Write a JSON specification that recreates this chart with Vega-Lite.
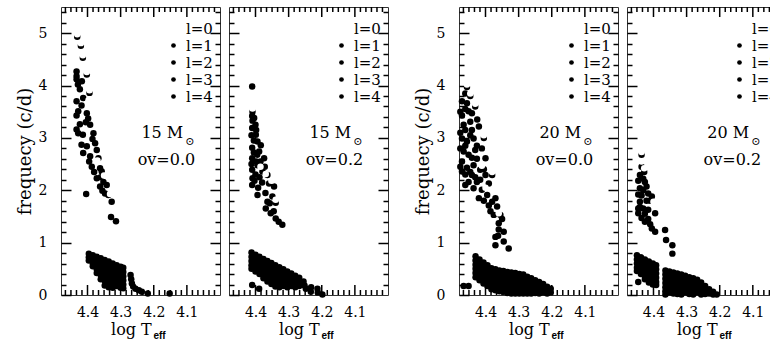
{
"$schema": "https://vega.github.io/schema/vega-lite/v6.json",
"padding": {"left": 15, "top": 5, "right": 0, "bottom": 0},
"background": "white",
"config": {
 "view": {"stroke": "#333", "strokeWidth": 1},
 "axis": {"domain": false, "grid": false, "tickColor": "black", "tickWidth": 1.5, "labelFont": "DejaVu Serif", "labelFontSize": 14, "labelColor": "black", "titleFont": "DejaVu Serif", "titleFontSize": 18, "titleFontWeight": "normal", "titleColor": "black", "labelFlush": false, "zindex": 1},
 "legend": {"labelFont": "DejaVu Serif", "labelFontSize": 15, "labelColor": "black"},
 "text": {"font": "DejaVu Serif", "fontSize": 16, "color": "black", "baseline": "alphabetic"}
},
"datasets": {
"majx": [{"v": 4.4}, {"v": 4.3}, {"v": 4.2}, {"v": 4.1}],
"minx": [{"v": 4.0167}, {"v": 4.0333}, {"v": 4.05}, {"v": 4.0667}, {"v": 4.0833}, {"v": 4.1167}, {"v": 4.1333}, {"v": 4.15}, {"v": 4.1667}, {"v": 4.1833}, {"v": 4.2167}, {"v": 4.2333}, {"v": 4.25}, {"v": 4.2667}, {"v": 4.2833}, {"v": 4.3167}, {"v": 4.3333}, {"v": 4.35}, {"v": 4.3667}, {"v": 4.3833}, {"v": 4.4167}, {"v": 4.4333}, {"v": 4.45}, {"v": 4.4667}],
"pts": [
{"p":1,"l":1,"t":4.431,"f":4.93},{"p":1,"l":2,"t":4.420,"f":4.76},{"p":1,"l":3,"t":4.414,"f":4.53},{"p":1,"l":4,"t":4.402,"f":4.21},{"p":1,"l":1,"t":4.394,"f":3.86},
{"p":1,"l":2,"t":4.433,"f":4.27},{"p":1,"l":3,"t":4.433,"f":4.18},{"p":1,"l":4,"t":4.433,"f":4.12},{"p":1,"l":1,"t":4.429,"f":4.02},{"p":1,"l":2,"t":4.417,"f":4.08},
{"p":1,"l":3,"t":4.423,"f":3.93},{"p":1,"l":4,"t":4.413,"f":3.76},{"p":1,"l":1,"t":4.433,"f":3.70},{"p":1,"l":2,"t":4.428,"f":3.51},{"p":1,"l":3,"t":4.433,"f":3.43},
{"p":1,"l":4,"t":4.402,"f":3.47},{"p":1,"l":1,"t":4.398,"f":3.37},{"p":1,"l":2,"t":4.423,"f":3.26},{"p":1,"l":3,"t":4.433,"f":3.16},{"p":1,"l":4,"t":4.428,"f":3.09},
{"p":1,"l":1,"t":4.392,"f":3.25},{"p":1,"l":2,"t":4.382,"f":3.09},{"p":1,"l":3,"t":4.414,"f":3.06},{"p":1,"l":4,"t":4.418,"f":2.87},{"p":1,"l":1,"t":4.402,"f":2.84},
{"p":1,"l":2,"t":4.377,"f":2.90},{"p":1,"l":3,"t":4.372,"f":2.77},{"p":1,"l":4,"t":4.413,"f":2.71},{"p":1,"l":1,"t":4.392,"f":2.65},{"p":1,"l":2,"t":4.367,"f":2.61},
{"p":1,"l":3,"t":4.387,"f":2.45},{"p":1,"l":4,"t":4.362,"f":2.42},{"p":1,"l":1,"t":4.357,"f":2.36},{"p":1,"l":2,"t":4.372,"f":2.23},{"p":1,"l":3,"t":4.352,"f":2.16},
{"p":1,"l":4,"t":4.362,"f":2.07},{"p":1,"l":1,"t":4.342,"f":2.10},{"p":1,"l":2,"t":4.347,"f":1.94},{"p":1,"l":3,"t":4.337,"f":1.91},{"p":1,"l":4,"t":4.327,"f":1.78},
{"p":1,"l":1,"t":4.404,"f":1.93},{"p":1,"l":2,"t":4.329,"f":1.49},{"p":1,"l":3,"t":4.314,"f":1.41},{"p":1,"l":4,"t":4.418,"f":3.62},{"p":1,"l":1,"t":4.405,"f":3.30},
{"p":1,"l":2,"t":4.385,"f":2.98},{"p":1,"l":3,"t":4.395,"f":2.55},{"p":1,"l":4,"t":4.380,"f":2.35},{"p":1,"l":1,"t":4.360,"f":2.25},{"p":1,"l":2,"t":4.355,"f":1.99},
{"p":1,"l":1,"t":4.396,"f":0.79},{"p":1,"l":2,"t":4.396,"f":0.72},{"p":1,"l":1,"t":4.396,"f":0.66},
{"p":1,"l":1,"t":4.384,"f":0.76},{"p":1,"l":2,"t":4.384,"f":0.68},{"p":1,"l":1,"t":4.384,"f":0.60},{"p":1,"l":2,"t":4.384,"f":0.55},
{"p":1,"l":1,"t":4.372,"f":0.73},{"p":1,"l":2,"t":4.372,"f":0.65},{"p":1,"l":1,"t":4.372,"f":0.57},{"p":1,"l":2,"t":4.372,"f":0.49},{"p":1,"l":1,"t":4.372,"f":0.42},
{"p":1,"l":1,"t":4.360,"f":0.70},{"p":1,"l":2,"t":4.360,"f":0.62},{"p":1,"l":1,"t":4.360,"f":0.54},{"p":1,"l":2,"t":4.360,"f":0.46},{"p":1,"l":1,"t":4.360,"f":0.38},{"p":1,"l":2,"t":4.360,"f":0.30},
{"p":1,"l":1,"t":4.348,"f":0.67},{"p":1,"l":2,"t":4.348,"f":0.59},{"p":1,"l":1,"t":4.348,"f":0.51},{"p":1,"l":2,"t":4.348,"f":0.43},{"p":1,"l":1,"t":4.348,"f":0.35},{"p":1,"l":2,"t":4.348,"f":0.27},{"p":1,"l":1,"t":4.348,"f":0.18},
{"p":1,"l":1,"t":4.336,"f":0.64},{"p":1,"l":2,"t":4.336,"f":0.56},{"p":1,"l":1,"t":4.336,"f":0.48},{"p":1,"l":2,"t":4.336,"f":0.40},{"p":1,"l":1,"t":4.336,"f":0.32},{"p":1,"l":2,"t":4.336,"f":0.24},{"p":1,"l":1,"t":4.336,"f":0.15},
{"p":1,"l":1,"t":4.324,"f":0.60},{"p":1,"l":2,"t":4.324,"f":0.52},{"p":1,"l":1,"t":4.324,"f":0.44},{"p":1,"l":2,"t":4.324,"f":0.36},{"p":1,"l":1,"t":4.324,"f":0.28},{"p":1,"l":2,"t":4.324,"f":0.20},{"p":1,"l":1,"t":4.324,"f":0.14},
{"p":1,"l":1,"t":4.312,"f":0.57},{"p":1,"l":2,"t":4.312,"f":0.49},{"p":1,"l":1,"t":4.312,"f":0.41},{"p":1,"l":2,"t":4.312,"f":0.33},{"p":1,"l":1,"t":4.312,"f":0.25},{"p":1,"l":2,"t":4.312,"f":0.17},
{"p":1,"l":1,"t":4.300,"f":0.54},{"p":1,"l":2,"t":4.300,"f":0.46},{"p":1,"l":1,"t":4.300,"f":0.38},{"p":1,"l":2,"t":4.300,"f":0.30},{"p":1,"l":1,"t":4.300,"f":0.22},{"p":1,"l":2,"t":4.300,"f":0.14},
{"p":1,"l":1,"t":4.292,"f":0.52},{"p":1,"l":2,"t":4.292,"f":0.44},{"p":1,"l":1,"t":4.292,"f":0.36},{"p":1,"l":2,"t":4.292,"f":0.28},{"p":1,"l":1,"t":4.292,"f":0.20},{"p":1,"l":2,"t":4.292,"f":0.13},
{"p":1,"l":1,"t":4.270,"f":0.38},{"p":1,"l":2,"t":4.268,"f":0.30},{"p":1,"l":1,"t":4.266,"f":0.22},{"p":1,"l":2,"t":4.262,"f":0.16},{"p":1,"l":1,"t":4.255,"f":0.12},{"p":1,"l":2,"t":4.245,"f":0.09},{"p":1,"l":1,"t":4.236,"f":0.06},{"p":1,"l":2,"t":4.218,"f":0.03},{"p":1,"l":1,"t":4.152,"f":0.03},

{"p":2,"l":1,"t":4.410,"f":3.98},{"p":2,"l":2,"t":4.409,"f":3.50},{"p":2,"l":3,"t":4.410,"f":3.42},{"p":2,"l":4,"t":4.409,"f":3.33},{"p":2,"l":1,"t":4.410,"f":3.19},
{"p":2,"l":2,"t":4.399,"f":3.06},{"p":2,"l":3,"t":4.394,"f":2.93},{"p":2,"l":4,"t":4.410,"f":2.81},{"p":2,"l":1,"t":4.389,"f":2.74},{"p":2,"l":2,"t":4.410,"f":2.61},
{"p":2,"l":3,"t":4.374,"f":2.61},{"p":2,"l":4,"t":4.384,"f":2.86},{"p":2,"l":1,"t":4.394,"f":2.48},{"p":2,"l":2,"t":4.410,"f":2.39},{"p":2,"l":3,"t":4.379,"f":2.36},
{"p":2,"l":4,"t":4.409,"f":2.23},{"p":2,"l":1,"t":4.410,"f":2.10},{"p":2,"l":2,"t":4.364,"f":2.29},{"p":2,"l":3,"t":4.359,"f":2.13},{"p":2,"l":4,"t":4.344,"f":2.07},
{"p":2,"l":1,"t":4.394,"f":1.91},{"p":2,"l":2,"t":4.349,"f":1.88},{"p":2,"l":3,"t":4.364,"f":1.78},{"p":2,"l":4,"t":4.369,"f":1.65},{"p":2,"l":1,"t":4.354,"f":1.56},
{"p":2,"l":2,"t":4.339,"f":1.46},{"p":2,"l":3,"t":4.319,"f":1.34},{"p":2,"l":4,"t":4.400,"f":3.25},{"p":2,"l":1,"t":4.405,"f":2.95},{"p":2,"l":2,"t":4.395,"f":2.68},
{"p":2,"l":3,"t":4.385,"f":2.55},{"p":2,"l":4,"t":4.400,"f":2.30},{"p":2,"l":1,"t":4.339,"f":1.76},
{"p":2,"l":2,"t":4.404,"f":3.38},{"p":2,"l":3,"t":4.398,"f":3.15},{"p":2,"l":4,"t":4.412,"f":3.05},{"p":2,"l":1,"t":4.405,"f":2.72},{"p":2,"l":2,"t":4.398,"f":2.55},
{"p":2,"l":3,"t":4.412,"f":2.50},{"p":2,"l":4,"t":4.403,"f":2.18},{"p":2,"l":1,"t":4.392,"f":2.05},{"p":2,"l":2,"t":4.380,"f":2.15},{"p":2,"l":3,"t":4.372,"f":2.45},
{"p":2,"l":4,"t":4.388,"f":2.25},{"p":2,"l":1,"t":4.370,"f":1.95},{"p":2,"l":2,"t":4.357,"f":1.75},{"p":2,"l":3,"t":4.345,"f":1.60},{"p":2,"l":4,"t":4.330,"f":1.40},
{"p":2,"l":1,"t":4.412,"f":0.81},{"p":2,"l":2,"t":4.412,"f":0.73},{"p":2,"l":1,"t":4.412,"f":0.65},{"p":2,"l":2,"t":4.412,"f":0.57},{"p":2,"l":1,"t":4.412,"f":0.50},
{"p":2,"l":1,"t":4.400,"f":0.77},{"p":2,"l":2,"t":4.400,"f":0.69},{"p":2,"l":1,"t":4.400,"f":0.61},{"p":2,"l":2,"t":4.400,"f":0.53},{"p":2,"l":1,"t":4.400,"f":0.45},
{"p":2,"l":1,"t":4.388,"f":0.73},{"p":2,"l":2,"t":4.388,"f":0.65},{"p":2,"l":1,"t":4.388,"f":0.57},{"p":2,"l":2,"t":4.388,"f":0.49},{"p":2,"l":1,"t":4.388,"f":0.40},
{"p":2,"l":1,"t":4.376,"f":0.69},{"p":2,"l":2,"t":4.376,"f":0.61},{"p":2,"l":1,"t":4.376,"f":0.53},{"p":2,"l":2,"t":4.376,"f":0.45},{"p":2,"l":1,"t":4.376,"f":0.37},{"p":2,"l":2,"t":4.376,"f":0.32},
{"p":2,"l":1,"t":4.364,"f":0.65},{"p":2,"l":2,"t":4.364,"f":0.57},{"p":2,"l":1,"t":4.364,"f":0.49},{"p":2,"l":2,"t":4.364,"f":0.41},{"p":2,"l":1,"t":4.364,"f":0.33},{"p":2,"l":2,"t":4.364,"f":0.26},
{"p":2,"l":1,"t":4.352,"f":0.61},{"p":2,"l":2,"t":4.352,"f":0.53},{"p":2,"l":1,"t":4.352,"f":0.45},{"p":2,"l":2,"t":4.352,"f":0.37},{"p":2,"l":1,"t":4.352,"f":0.29},{"p":2,"l":2,"t":4.352,"f":0.21},
{"p":2,"l":1,"t":4.340,"f":0.57},{"p":2,"l":2,"t":4.340,"f":0.49},{"p":2,"l":1,"t":4.340,"f":0.41},{"p":2,"l":2,"t":4.340,"f":0.33},{"p":2,"l":1,"t":4.340,"f":0.25},{"p":2,"l":2,"t":4.340,"f":0.16},
{"p":2,"l":1,"t":4.328,"f":0.53},{"p":2,"l":2,"t":4.328,"f":0.45},{"p":2,"l":1,"t":4.328,"f":0.37},{"p":2,"l":2,"t":4.328,"f":0.29},{"p":2,"l":1,"t":4.328,"f":0.21},{"p":2,"l":2,"t":4.328,"f":0.15},
{"p":2,"l":1,"t":4.316,"f":0.49},{"p":2,"l":2,"t":4.316,"f":0.41},{"p":2,"l":1,"t":4.316,"f":0.33},{"p":2,"l":2,"t":4.316,"f":0.25},{"p":2,"l":1,"t":4.316,"f":0.17},
{"p":2,"l":1,"t":4.304,"f":0.45},{"p":2,"l":2,"t":4.304,"f":0.37},{"p":2,"l":1,"t":4.304,"f":0.29},{"p":2,"l":2,"t":4.304,"f":0.21},{"p":2,"l":1,"t":4.304,"f":0.15},
{"p":2,"l":1,"t":4.292,"f":0.41},{"p":2,"l":2,"t":4.292,"f":0.33},{"p":2,"l":1,"t":4.292,"f":0.25},{"p":2,"l":2,"t":4.292,"f":0.17},
{"p":2,"l":1,"t":4.280,"f":0.37},{"p":2,"l":2,"t":4.280,"f":0.29},{"p":2,"l":1,"t":4.280,"f":0.21},{"p":2,"l":2,"t":4.280,"f":0.15},
{"p":2,"l":1,"t":4.268,"f":0.33},{"p":2,"l":2,"t":4.268,"f":0.25},{"p":2,"l":1,"t":4.268,"f":0.17},
{"p":2,"l":1,"t":4.255,"f":0.26},{"p":2,"l":2,"t":4.252,"f":0.18},{"p":2,"l":1,"t":4.248,"f":0.12},{"p":2,"l":2,"t":4.233,"f":0.06},{"p":2,"l":1,"t":4.232,"f":0.15},{"p":2,"l":2,"t":4.213,"f":0.12},{"p":2,"l":1,"t":4.212,"f":0.05},{"p":2,"l":2,"t":4.198,"f":0.01},{"p":2,"l":1,"t":4.410,"f":0.19},{"p":2,"l":2,"t":4.389,"f":0.12},

{"p":3,"l":1,"t":4.456,"f":3.97},{"p":3,"l":2,"t":4.471,"f":3.70},{"p":3,"l":3,"t":4.456,"f":3.66},{"p":3,"l":4,"t":4.451,"f":3.51},{"p":3,"l":1,"t":4.471,"f":3.43},
{"p":3,"l":2,"t":4.441,"f":3.47},{"p":3,"l":3,"t":4.466,"f":3.25},{"p":3,"l":4,"t":4.446,"f":3.31},{"p":3,"l":1,"t":4.441,"f":3.15},{"p":3,"l":2,"t":4.420,"f":3.22},
{"p":3,"l":3,"t":4.471,"f":2.99},{"p":3,"l":4,"t":4.456,"f":2.93},{"p":3,"l":1,"t":4.436,"f":2.99},{"p":3,"l":2,"t":4.466,"f":2.74},{"p":3,"l":3,"t":4.451,"f":2.68},
{"p":3,"l":4,"t":4.431,"f":2.77},{"p":3,"l":1,"t":4.411,"f":2.80},{"p":3,"l":2,"t":4.400,"f":2.61},{"p":3,"l":3,"t":4.471,"f":2.55},{"p":3,"l":4,"t":4.456,"f":2.43},
{"p":3,"l":1,"t":4.436,"f":2.48},{"p":3,"l":2,"t":4.416,"f":2.39},{"p":3,"l":3,"t":4.471,"f":2.36},{"p":3,"l":4,"t":4.441,"f":2.29},{"p":3,"l":1,"t":4.451,"f":2.16},
{"p":3,"l":2,"t":4.426,"f":2.16},{"p":3,"l":3,"t":4.400,"f":2.29},{"p":3,"l":4,"t":4.390,"f":2.13},{"p":3,"l":1,"t":4.380,"f":2.29},{"p":3,"l":2,"t":4.436,"f":2.04},
{"p":3,"l":3,"t":4.411,"f":2.01},{"p":3,"l":4,"t":4.420,"f":1.85},{"p":3,"l":1,"t":4.395,"f":1.91},{"p":3,"l":2,"t":4.380,"f":1.78},{"p":3,"l":3,"t":4.370,"f":1.85},
{"p":3,"l":4,"t":4.390,"f":1.71},{"p":3,"l":1,"t":4.365,"f":1.69},{"p":3,"l":2,"t":4.375,"f":1.53},{"p":3,"l":3,"t":4.355,"f":1.53},{"p":3,"l":4,"t":4.360,"f":1.37},
{"p":3,"l":1,"t":4.345,"f":1.21},{"p":3,"l":2,"t":4.370,"f":1.11},{"p":3,"l":3,"t":4.362,"f":1.13},{"p":3,"l":4,"t":4.370,"f":0.95},{"p":3,"l":1,"t":4.345,"f":1.02},
{"p":3,"l":2,"t":4.330,"f":0.89},{"p":3,"l":3,"t":4.476,"f":3.50},{"p":3,"l":4,"t":4.476,"f":3.10},{"p":3,"l":1,"t":4.476,"f":2.80},{"p":3,"l":2,"t":4.476,"f":2.45},
{"p":3,"l":3,"t":4.461,"f":3.85},{"p":3,"l":4,"t":4.446,"f":3.80},{"p":3,"l":1,"t":4.431,"f":3.60},{"p":3,"l":2,"t":4.425,"f":3.35},{"p":3,"l":3,"t":4.405,"f":3.00},
{"p":3,"l":1,"t":4.461,"f":3.55},{"p":3,"l":2,"t":4.461,"f":3.15},{"p":3,"l":3,"t":4.446,"f":3.05},{"p":3,"l":4,"t":4.461,"f":2.85},{"p":3,"l":1,"t":4.441,"f":2.62},
{"p":3,"l":2,"t":4.426,"f":2.60},{"p":3,"l":3,"t":4.426,"f":2.85},{"p":3,"l":4,"t":4.461,"f":2.30},{"p":3,"l":1,"t":4.446,"f":2.35},{"p":3,"l":2,"t":4.431,"f":2.25},
{"p":3,"l":3,"t":4.461,"f":2.10},{"p":3,"l":4,"t":4.416,"f":2.20},{"p":3,"l":1,"t":4.405,"f":2.40},{"p":3,"l":2,"t":4.405,"f":1.80},{"p":3,"l":3,"t":4.385,"f":1.60},
{"p":3,"l":4,"t":4.360,"f":1.25},{"p":3,"l":1,"t":4.350,"f":1.45},
{"p":3,"l":1,"t":4.430,"f":0.74},{"p":3,"l":2,"t":4.430,"f":0.66},{"p":3,"l":1,"t":4.430,"f":0.58},{"p":3,"l":2,"t":4.430,"f":0.50},{"p":3,"l":1,"t":4.430,"f":0.42},{"p":3,"l":2,"t":4.430,"f":0.34},
{"p":3,"l":1,"t":4.418,"f":0.68},{"p":3,"l":2,"t":4.418,"f":0.60},{"p":3,"l":1,"t":4.418,"f":0.52},{"p":3,"l":2,"t":4.418,"f":0.44},{"p":3,"l":1,"t":4.418,"f":0.36},{"p":3,"l":2,"t":4.418,"f":0.28},
{"p":3,"l":1,"t":4.406,"f":0.62},{"p":3,"l":2,"t":4.406,"f":0.54},{"p":3,"l":1,"t":4.406,"f":0.46},{"p":3,"l":2,"t":4.406,"f":0.38},{"p":3,"l":1,"t":4.406,"f":0.30},{"p":3,"l":2,"t":4.406,"f":0.22},
{"p":3,"l":1,"t":4.394,"f":0.57},{"p":3,"l":2,"t":4.394,"f":0.49},{"p":3,"l":1,"t":4.394,"f":0.41},{"p":3,"l":2,"t":4.394,"f":0.33},{"p":3,"l":1,"t":4.394,"f":0.25},{"p":3,"l":2,"t":4.394,"f":0.17},
{"p":3,"l":1,"t":4.382,"f":0.51},{"p":3,"l":2,"t":4.382,"f":0.43},{"p":3,"l":1,"t":4.382,"f":0.35},{"p":3,"l":2,"t":4.382,"f":0.27},{"p":3,"l":1,"t":4.382,"f":0.19},{"p":3,"l":2,"t":4.382,"f":0.11},
{"p":3,"l":1,"t":4.370,"f":0.49},{"p":3,"l":2,"t":4.370,"f":0.41},{"p":3,"l":1,"t":4.370,"f":0.33},{"p":3,"l":2,"t":4.370,"f":0.25},{"p":3,"l":1,"t":4.370,"f":0.17},{"p":3,"l":2,"t":4.370,"f":0.09},
{"p":3,"l":1,"t":4.358,"f":0.47},{"p":3,"l":2,"t":4.358,"f":0.39},{"p":3,"l":1,"t":4.358,"f":0.31},{"p":3,"l":2,"t":4.358,"f":0.23},{"p":3,"l":1,"t":4.358,"f":0.15},{"p":3,"l":2,"t":4.358,"f":0.07},
{"p":3,"l":1,"t":4.346,"f":0.46},{"p":3,"l":2,"t":4.346,"f":0.38},{"p":3,"l":1,"t":4.346,"f":0.30},{"p":3,"l":2,"t":4.346,"f":0.22},{"p":3,"l":1,"t":4.346,"f":0.14},{"p":3,"l":2,"t":4.346,"f":0.06},
{"p":3,"l":1,"t":4.334,"f":0.44},{"p":3,"l":2,"t":4.334,"f":0.36},{"p":3,"l":1,"t":4.334,"f":0.28},{"p":3,"l":2,"t":4.334,"f":0.20},{"p":3,"l":1,"t":4.334,"f":0.12},{"p":3,"l":2,"t":4.334,"f":0.04},
{"p":3,"l":1,"t":4.322,"f":0.43},{"p":3,"l":2,"t":4.322,"f":0.35},{"p":3,"l":1,"t":4.322,"f":0.27},{"p":3,"l":2,"t":4.322,"f":0.19},{"p":3,"l":1,"t":4.322,"f":0.11},{"p":3,"l":2,"t":4.322,"f":0.03},
{"p":3,"l":1,"t":4.310,"f":0.42},{"p":3,"l":2,"t":4.310,"f":0.34},{"p":3,"l":1,"t":4.310,"f":0.26},{"p":3,"l":2,"t":4.310,"f":0.18},{"p":3,"l":1,"t":4.310,"f":0.10},{"p":3,"l":2,"t":4.310,"f":0.03},
{"p":3,"l":1,"t":4.298,"f":0.40},{"p":3,"l":2,"t":4.298,"f":0.32},{"p":3,"l":1,"t":4.298,"f":0.24},{"p":3,"l":2,"t":4.298,"f":0.16},{"p":3,"l":1,"t":4.298,"f":0.08},{"p":3,"l":2,"t":4.298,"f":0.03},
{"p":3,"l":1,"t":4.286,"f":0.39},{"p":3,"l":2,"t":4.286,"f":0.31},{"p":3,"l":1,"t":4.286,"f":0.23},{"p":3,"l":2,"t":4.286,"f":0.15},{"p":3,"l":1,"t":4.286,"f":0.07},{"p":3,"l":2,"t":4.286,"f":0.03},
{"p":3,"l":1,"t":4.274,"f":0.35},{"p":3,"l":2,"t":4.274,"f":0.27},{"p":3,"l":1,"t":4.274,"f":0.19},{"p":3,"l":2,"t":4.274,"f":0.11},{"p":3,"l":1,"t":4.274,"f":0.03},
{"p":3,"l":1,"t":4.262,"f":0.32},{"p":3,"l":2,"t":4.262,"f":0.24},{"p":3,"l":1,"t":4.262,"f":0.16},{"p":3,"l":2,"t":4.262,"f":0.08},{"p":3,"l":1,"t":4.262,"f":0.03},
{"p":3,"l":1,"t":4.250,"f":0.28},{"p":3,"l":2,"t":4.250,"f":0.20},{"p":3,"l":1,"t":4.250,"f":0.12},{"p":3,"l":2,"t":4.250,"f":0.04},
{"p":3,"l":1,"t":4.238,"f":0.25},{"p":3,"l":2,"t":4.238,"f":0.17},{"p":3,"l":1,"t":4.238,"f":0.09},{"p":3,"l":2,"t":4.238,"f":0.03},
{"p":3,"l":1,"t":4.226,"f":0.21},{"p":3,"l":2,"t":4.226,"f":0.13},{"p":3,"l":1,"t":4.226,"f":0.05},
{"p":3,"l":1,"t":4.214,"f":0.16},{"p":3,"l":2,"t":4.214,"f":0.08},{"p":3,"l":1,"t":4.214,"f":0.03},
{"p":3,"l":1,"t":4.203,"f":0.12},{"p":3,"l":2,"t":4.203,"f":0.05},
{"p":3,"l":1,"t":4.466,"f":0.17},{"p":3,"l":2,"t":4.451,"f":0.17},

{"p":4,"l":1,"t":4.436,"f":2.68},{"p":4,"l":2,"t":4.441,"f":2.29},{"p":4,"l":3,"t":4.426,"f":2.16},{"p":4,"l":4,"t":4.441,"f":2.04},{"p":4,"l":1,"t":4.421,"f":2.07},
{"p":4,"l":2,"t":4.416,"f":1.94},{"p":4,"l":3,"t":4.405,"f":1.88},{"p":4,"l":4,"t":4.441,"f":1.78},{"p":4,"l":1,"t":4.431,"f":1.65},{"p":4,"l":2,"t":4.416,"f":1.63},
{"p":4,"l":3,"t":4.446,"f":1.56},{"p":4,"l":4,"t":4.395,"f":1.56},{"p":4,"l":1,"t":4.426,"f":1.40},{"p":4,"l":2,"t":4.405,"f":1.27},{"p":4,"l":3,"t":4.395,"f":1.21},
{"p":4,"l":4,"t":4.365,"f":1.24},{"p":4,"l":1,"t":4.362,"f":1.05},{"p":4,"l":2,"t":4.343,"f":0.95},{"p":4,"l":3,"t":4.343,"f":0.79},{"p":4,"l":4,"t":4.436,"f":2.45},
{"p":4,"l":1,"t":4.428,"f":2.35},{"p":4,"l":2,"t":4.410,"f":1.80},{"p":4,"l":3,"t":4.436,"f":1.90},
{"p":4,"l":4,"t":4.446,"f":2.18},{"p":4,"l":1,"t":4.431,"f":2.00},{"p":4,"l":2,"t":4.446,"f":1.92},{"p":4,"l":3,"t":4.421,"f":1.80},{"p":4,"l":4,"t":4.441,"f":1.68},
{"p":4,"l":1,"t":4.426,"f":1.55},{"p":4,"l":2,"t":4.436,"f":1.47},{"p":4,"l":3,"t":4.416,"f":1.45},{"p":4,"l":4,"t":4.410,"f":1.35},{"p":4,"l":1,"t":4.446,"f":1.65},{"p":4,"l":2,"t":4.431,"f":2.22},
{"p":4,"l":1,"t":4.450,"f":0.76},{"p":4,"l":2,"t":4.450,"f":0.68},{"p":4,"l":1,"t":4.450,"f":0.60},{"p":4,"l":2,"t":4.450,"f":0.52},{"p":4,"l":1,"t":4.450,"f":0.46},
{"p":4,"l":1,"t":4.438,"f":0.72},{"p":4,"l":2,"t":4.438,"f":0.64},{"p":4,"l":1,"t":4.438,"f":0.56},{"p":4,"l":2,"t":4.438,"f":0.48},{"p":4,"l":1,"t":4.438,"f":0.40},
{"p":4,"l":1,"t":4.426,"f":0.68},{"p":4,"l":2,"t":4.426,"f":0.60},{"p":4,"l":1,"t":4.426,"f":0.52},{"p":4,"l":2,"t":4.426,"f":0.44},{"p":4,"l":1,"t":4.426,"f":0.36},{"p":4,"l":2,"t":4.426,"f":0.30},
{"p":4,"l":1,"t":4.414,"f":0.64},{"p":4,"l":2,"t":4.414,"f":0.56},{"p":4,"l":1,"t":4.414,"f":0.48},{"p":4,"l":2,"t":4.414,"f":0.40},{"p":4,"l":1,"t":4.414,"f":0.32},{"p":4,"l":2,"t":4.414,"f":0.24},
{"p":4,"l":1,"t":4.402,"f":0.60},{"p":4,"l":2,"t":4.402,"f":0.52},{"p":4,"l":1,"t":4.402,"f":0.44},{"p":4,"l":2,"t":4.402,"f":0.36},{"p":4,"l":1,"t":4.402,"f":0.28},{"p":4,"l":2,"t":4.402,"f":0.20},
{"p":4,"l":1,"t":4.392,"f":0.57},{"p":4,"l":2,"t":4.392,"f":0.49},{"p":4,"l":1,"t":4.392,"f":0.41},{"p":4,"l":2,"t":4.392,"f":0.33},{"p":4,"l":1,"t":4.392,"f":0.25},{"p":4,"l":2,"t":4.392,"f":0.19},
{"p":4,"l":1,"t":4.446,"f":0.25},
{"p":4,"l":1,"t":4.364,"f":0.47},{"p":4,"l":2,"t":4.364,"f":0.39},{"p":4,"l":1,"t":4.364,"f":0.31},{"p":4,"l":2,"t":4.364,"f":0.23},{"p":4,"l":1,"t":4.364,"f":0.15},{"p":4,"l":2,"t":4.364,"f":0.07},{"p":4,"l":1,"t":4.364,"f":0.01},
{"p":4,"l":1,"t":4.352,"f":0.45},{"p":4,"l":2,"t":4.352,"f":0.37},{"p":4,"l":1,"t":4.352,"f":0.29},{"p":4,"l":2,"t":4.352,"f":0.21},{"p":4,"l":1,"t":4.352,"f":0.13},{"p":4,"l":2,"t":4.352,"f":0.05},
{"p":4,"l":1,"t":4.340,"f":0.43},{"p":4,"l":2,"t":4.340,"f":0.35},{"p":4,"l":1,"t":4.340,"f":0.27},{"p":4,"l":2,"t":4.340,"f":0.19},{"p":4,"l":1,"t":4.340,"f":0.11},{"p":4,"l":2,"t":4.340,"f":0.03},
{"p":4,"l":1,"t":4.328,"f":0.41},{"p":4,"l":2,"t":4.328,"f":0.33},{"p":4,"l":1,"t":4.328,"f":0.25},{"p":4,"l":2,"t":4.328,"f":0.17},{"p":4,"l":1,"t":4.328,"f":0.09},{"p":4,"l":2,"t":4.328,"f":0.02},
{"p":4,"l":1,"t":4.316,"f":0.39},{"p":4,"l":2,"t":4.316,"f":0.31},{"p":4,"l":1,"t":4.316,"f":0.23},{"p":4,"l":2,"t":4.316,"f":0.15},{"p":4,"l":1,"t":4.316,"f":0.07},{"p":4,"l":2,"t":4.316,"f":0.01},
{"p":4,"l":1,"t":4.304,"f":0.37},{"p":4,"l":2,"t":4.304,"f":0.29},{"p":4,"l":1,"t":4.304,"f":0.21},{"p":4,"l":2,"t":4.304,"f":0.13},{"p":4,"l":1,"t":4.304,"f":0.05},
{"p":4,"l":1,"t":4.292,"f":0.34},{"p":4,"l":2,"t":4.292,"f":0.26},{"p":4,"l":1,"t":4.292,"f":0.18},{"p":4,"l":2,"t":4.292,"f":0.10},{"p":4,"l":1,"t":4.292,"f":0.02},
{"p":4,"l":1,"t":4.280,"f":0.32},{"p":4,"l":2,"t":4.280,"f":0.24},{"p":4,"l":1,"t":4.280,"f":0.16},{"p":4,"l":2,"t":4.280,"f":0.08},{"p":4,"l":1,"t":4.280,"f":0.01},
{"p":4,"l":1,"t":4.268,"f":0.29},{"p":4,"l":2,"t":4.268,"f":0.21},{"p":4,"l":1,"t":4.268,"f":0.13},{"p":4,"l":2,"t":4.268,"f":0.05},
{"p":4,"l":1,"t":4.256,"f":0.24},{"p":4,"l":2,"t":4.256,"f":0.16},{"p":4,"l":1,"t":4.256,"f":0.08},{"p":4,"l":2,"t":4.256,"f":0.01},
{"p":4,"l":1,"t":4.244,"f":0.17},{"p":4,"l":2,"t":4.244,"f":0.09},{"p":4,"l":1,"t":4.244,"f":0.02},
{"p":4,"l":1,"t":4.232,"f":0.11},{"p":4,"l":2,"t":4.232,"f":0.03},
{"p":4,"l":1,"t":4.220,"f":0.06},{"p":4,"l":2,"t":4.220,"f":0.01},
{"p":4,"l":1,"t":4.209,"f":0.01},

{"p":1,"l":0,"t":4.431,"f":4.98},{"p":1,"l":0,"t":4.420,"f":4.81},{"p":1,"l":0,"t":4.414,"f":4.58},{"p":1,"l":0,"t":4.402,"f":4.26},{"p":1,"l":0,"t":4.394,"f":3.91},
{"p":1,"l":0,"t":4.397,"f":3.72},{"p":1,"l":0,"t":4.370,"f":2.57},{"p":1,"l":0,"t":4.350,"f":2.28},{"p":1,"l":0,"t":4.332,"f":1.93},
{"p":2,"l":0,"t":4.409,"f":3.56},{"p":2,"l":0,"t":4.369,"f":2.31},{"p":2,"l":0,"t":4.352,"f":2.18},{"p":2,"l":0,"t":4.339,"f":1.82},{"p":2,"l":0,"t":4.385,"f":2.45},
{"p":3,"l":0,"t":4.456,"f":4.02},{"p":3,"l":0,"t":4.446,"f":3.85},{"p":3,"l":0,"t":4.431,"f":3.65},{"p":3,"l":0,"t":4.405,"f":3.05},{"p":3,"l":0,"t":4.411,"f":2.47},
{"p":3,"l":0,"t":4.400,"f":2.05},{"p":3,"l":0,"t":4.360,"f":1.56},{"p":3,"l":0,"t":4.380,"f":2.35},
{"p":4,"l":0,"t":4.436,"f":2.73},{"p":4,"l":0,"t":4.436,"f":2.55},{"p":4,"l":0,"t":4.428,"f":2.42},{"p":4,"l":0,"t":4.400,"f":1.78}
]},
"resolve": {"legend": {"fill": "independent"}},
"spacing": 23,
"hconcat": [
{"spacing": 5, "resolve": {"legend": {"fill": "independent"}}, "hconcat": [
 {"width": 159, "height": 288, "resolve": {"axis": {"x": "independent", "y": "independent"}}, "layer": [
  {"data": {"name": "majx"}, "mark": {"type": "rule", "color": "black", "strokeWidth": 1.5}, "encoding": {"x": {"field": "v", "type": "quantitative", "scale": {"domain": [4.0, 4.48], "reverse": true, "nice": false, "zero": false}, "axis": null}, "y": {"datum": 0, "type": "quantitative", "scale": {"domain": [0, 5.5], "nice": false, "zero": false}, "axis": null}, "y2": {"datum": 0.191}}},
  {"data": {"name": "majx"}, "mark": {"type": "rule", "color": "black", "strokeWidth": 1.5}, "encoding": {"x": {"field": "v", "type": "quantitative", "scale": {"domain": [4.0, 4.48], "reverse": true, "nice": false, "zero": false}, "axis": null}, "y": {"datum": 5.5, "type": "quantitative", "scale": {"domain": [0, 5.5], "nice": false, "zero": false}, "axis": null}, "y2": {"datum": 5.309}}},
  {"data": {"name": "minx"}, "mark": {"type": "rule", "color": "black", "strokeWidth": 1.5}, "encoding": {"x": {"field": "v", "type": "quantitative", "scale": {"domain": [4.0, 4.48], "reverse": true, "nice": false, "zero": false}, "axis": null}, "y": {"datum": 0, "type": "quantitative", "scale": {"domain": [0, 5.5], "nice": false, "zero": false}, "axis": null}, "y2": {"datum": 0.095}}},
  {"data": {"name": "minx"}, "mark": {"type": "rule", "color": "black", "strokeWidth": 1.5}, "encoding": {"x": {"field": "v", "type": "quantitative", "scale": {"domain": [4.0, 4.48], "reverse": true, "nice": false, "zero": false}, "axis": null}, "y": {"datum": 5.5, "type": "quantitative", "scale": {"domain": [0, 5.5], "nice": false, "zero": false}, "axis": null}, "y2": {"datum": 5.405}}},
  {"data": {"name": "pts"}, "transform": [{"filter": "datum.p == 1"}],
   "mark": {"type": "circle", "size": 42, "opacity": 1},
   "encoding": {
    "x": {"field": "t", "type": "quantitative", "scale": {"domain": [4.0, 4.48], "reverse": true, "nice": false, "zero": false}, "axis": {"orient": "bottom", "values": [4.4, 4.3, 4.2, 4.1], "ticks": false, "labelPadding": 10, "title": null}},
    "y": {"field": "f", "type": "quantitative", "scale": {"domain": [0, 5.5], "nice": false, "zero": false}, "axis": {"orient": "left", "values": [0, 1, 2, 3, 4, 5], "offset": -10, "tickSize": 10, "labelPadding": 14, "title": "frequecy (c/d)", "titlePadding": 4}},
    "fill": {"field": "l", "type": "nominal", "scale": {"domain": [0, 1, 2, 3, 4], "range": ["white", "black", "black", "black", "black"]}, "legend": {"orient": "none", "legendX": 105, "legendY": 14, "title": null, "labelFont": "DejaVu Serif", "labelFontSize": 15, "labelColor": "black", "symbolType": "circle", "symbolSize": 22, "symbolStrokeWidth": 0, "symbolOpacity": 1, "rowPadding": 1, "padding": 0, "labelOffset": 5, "labelExpr": "'l=' + datum.label"}}
   }},
  {"data": {"values": [{}]}, "mark": {"type": "text", "text": "15  M", "align": "right"},
   "encoding": {
    "x": {"datum": 4.111, "type": "quantitative", "scale": {"domain": [4.0, 4.48], "reverse": true, "nice": false, "zero": false}, "axis": null},
    "y": {"datum": 2.99, "type": "quantitative", "scale": {"domain": [0, 5.5], "nice": false, "zero": false}, "axis": {"orient": "left", "values": [0.2, 0.4, 0.6, 0.8, 1.2, 1.4, 1.6, 1.8, 2.2, 2.4, 2.6, 2.8, 3.2, 3.4, 3.6, 3.8, 4.2, 4.4, 4.6, 4.8, 5.2, 5.4], "offset": -5, "tickSize": 5, "labels": false, "title": null}}
   }},
  {"data": {"values": [{}]}, "mark": {"type": "text", "text": "ov=0.0", "align": "right"},
   "encoding": {
    "x": {"datum": 4.075, "type": "quantitative", "scale": {"domain": [4.0, 4.48], "reverse": true, "nice": false, "zero": false}, "axis": null},
    "y": {"datum": 2.48, "type": "quantitative", "scale": {"domain": [0, 5.5], "nice": false, "zero": false}, "axis": {"orient": "right", "values": [1, 2, 3, 4, 5], "offset": -10, "tickSize": 10, "labels": false, "title": null}}
   }},
  {"data": {"values": [{}]}, "mark": {"type": "text", "text": "⊙", "align": "left", "baseline": "middle", "fontSize": 11},
   "encoding": {
    "x": {"datum": 4.105, "type": "quantitative", "scale": {"domain": [4.0, 4.48], "reverse": true, "nice": false, "zero": false}, "axis": null},
    "y": {"datum": 2.93, "type": "quantitative", "scale": {"domain": [0, 5.5], "nice": false, "zero": false}, "axis": {"orient": "right", "values": [0.2, 0.4, 0.6, 0.8, 1.2, 1.4, 1.6, 1.8, 2.2, 2.4, 2.6, 2.8, 3.2, 3.4, 3.6, 3.8, 4.2, 4.4, 4.6, 4.8, 5.2, 5.4], "offset": -5, "tickSize": 5, "labels": false, "title": null}}
   }},
  {"data": {"values": [{}]}, "mark": {"type": "text", "text": "log T", "align": "right"},
   "encoding": {"x": {"datum": 4.206, "type": "quantitative", "scale": {"domain": [4.0, 4.48], "reverse": true, "nice": false, "zero": false}, "axis": null}, "y": {"datum": -0.76, "type": "quantitative", "scale": {"domain": [0, 5.5], "nice": false, "zero": false}, "axis": null}}},
  {"data": {"values": [{}]}, "mark": {"type": "text", "text": "eff", "align": "left", "font": "Liberation Sans", "fontWeight": "bold", "fontSize": 10},
   "encoding": {"x": {"datum": 4.201, "type": "quantitative", "scale": {"domain": [4.0, 4.48], "reverse": true, "nice": false, "zero": false}, "axis": null}, "y": {"datum": -0.84, "type": "quantitative", "scale": {"domain": [0, 5.5], "nice": false, "zero": false}, "axis": null}}}
 ]},
 {"width": 159, "height": 288, "resolve": {"axis": {"x": "independent", "y": "independent"}}, "layer": [
  {"data": {"name": "majx"}, "mark": {"type": "rule", "color": "black", "strokeWidth": 1.5}, "encoding": {"x": {"field": "v", "type": "quantitative", "scale": {"domain": [4.0, 4.48], "reverse": true, "nice": false, "zero": false}, "axis": null}, "y": {"datum": 0, "type": "quantitative", "scale": {"domain": [0, 5.5], "nice": false, "zero": false}, "axis": null}, "y2": {"datum": 0.191}}},
  {"data": {"name": "majx"}, "mark": {"type": "rule", "color": "black", "strokeWidth": 1.5}, "encoding": {"x": {"field": "v", "type": "quantitative", "scale": {"domain": [4.0, 4.48], "reverse": true, "nice": false, "zero": false}, "axis": null}, "y": {"datum": 5.5, "type": "quantitative", "scale": {"domain": [0, 5.5], "nice": false, "zero": false}, "axis": null}, "y2": {"datum": 5.309}}},
  {"data": {"name": "minx"}, "mark": {"type": "rule", "color": "black", "strokeWidth": 1.5}, "encoding": {"x": {"field": "v", "type": "quantitative", "scale": {"domain": [4.0, 4.48], "reverse": true, "nice": false, "zero": false}, "axis": null}, "y": {"datum": 0, "type": "quantitative", "scale": {"domain": [0, 5.5], "nice": false, "zero": false}, "axis": null}, "y2": {"datum": 0.095}}},
  {"data": {"name": "minx"}, "mark": {"type": "rule", "color": "black", "strokeWidth": 1.5}, "encoding": {"x": {"field": "v", "type": "quantitative", "scale": {"domain": [4.0, 4.48], "reverse": true, "nice": false, "zero": false}, "axis": null}, "y": {"datum": 5.5, "type": "quantitative", "scale": {"domain": [0, 5.5], "nice": false, "zero": false}, "axis": null}, "y2": {"datum": 5.405}}},
  {"data": {"name": "pts"}, "transform": [{"filter": "datum.p == 2"}],
   "mark": {"type": "circle", "size": 42, "opacity": 1},
   "encoding": {
    "x": {"field": "t", "type": "quantitative", "scale": {"domain": [4.0, 4.48], "reverse": true, "nice": false, "zero": false}, "axis": {"orient": "bottom", "values": [4.4, 4.3, 4.2, 4.1], "ticks": false, "labelPadding": 10, "title": null}},
    "y": {"field": "f", "type": "quantitative", "scale": {"domain": [0, 5.5], "nice": false, "zero": false}, "axis": {"orient": "left", "values": [0, 1, 2, 3, 4, 5], "offset": -10, "tickSize": 10, "labels": false, "title": null}},
    "fill": {"field": "l", "type": "nominal", "scale": {"domain": [0, 1, 2, 3, 4], "range": ["white", "black", "black", "black", "black"]}, "legend": {"orient": "none", "legendX": 105, "legendY": 14, "title": null, "labelFont": "DejaVu Serif", "labelFontSize": 15, "labelColor": "black", "symbolType": "circle", "symbolSize": 22, "symbolStrokeWidth": 0, "symbolOpacity": 1, "rowPadding": 1, "padding": 0, "labelOffset": 5, "labelExpr": "'l=' + datum.label"}}
   }},
  {"data": {"values": [{}]}, "mark": {"type": "text", "text": "15  M", "align": "right"},
   "encoding": {
    "x": {"datum": 4.111, "type": "quantitative", "scale": {"domain": [4.0, 4.48], "reverse": true, "nice": false, "zero": false}, "axis": null},
    "y": {"datum": 2.99, "type": "quantitative", "scale": {"domain": [0, 5.5], "nice": false, "zero": false}, "axis": {"orient": "left", "values": [0.2, 0.4, 0.6, 0.8, 1.2, 1.4, 1.6, 1.8, 2.2, 2.4, 2.6, 2.8, 3.2, 3.4, 3.6, 3.8, 4.2, 4.4, 4.6, 4.8, 5.2, 5.4], "offset": -5, "tickSize": 5, "labels": false, "title": null}}
   }},
  {"data": {"values": [{}]}, "mark": {"type": "text", "text": "ov=0.2", "align": "right"},
   "encoding": {
    "x": {"datum": 4.075, "type": "quantitative", "scale": {"domain": [4.0, 4.48], "reverse": true, "nice": false, "zero": false}, "axis": null},
    "y": {"datum": 2.48, "type": "quantitative", "scale": {"domain": [0, 5.5], "nice": false, "zero": false}, "axis": {"orient": "right", "values": [1, 2, 3, 4, 5], "offset": -10, "tickSize": 10, "labels": false, "title": null}}
   }},
  {"data": {"values": [{}]}, "mark": {"type": "text", "text": "⊙", "align": "left", "baseline": "middle", "fontSize": 11},
   "encoding": {
    "x": {"datum": 4.105, "type": "quantitative", "scale": {"domain": [4.0, 4.48], "reverse": true, "nice": false, "zero": false}, "axis": null},
    "y": {"datum": 2.93, "type": "quantitative", "scale": {"domain": [0, 5.5], "nice": false, "zero": false}, "axis": {"orient": "right", "values": [0.2, 0.4, 0.6, 0.8, 1.2, 1.4, 1.6, 1.8, 2.2, 2.4, 2.6, 2.8, 3.2, 3.4, 3.6, 3.8, 4.2, 4.4, 4.6, 4.8, 5.2, 5.4], "offset": -5, "tickSize": 5, "labels": false, "title": null}}
   }},
  {"data": {"values": [{}]}, "mark": {"type": "text", "text": "log T", "align": "right"},
   "encoding": {"x": {"datum": 4.206, "type": "quantitative", "scale": {"domain": [4.0, 4.48], "reverse": true, "nice": false, "zero": false}, "axis": null}, "y": {"datum": -0.76, "type": "quantitative", "scale": {"domain": [0, 5.5], "nice": false, "zero": false}, "axis": null}}},
  {"data": {"values": [{}]}, "mark": {"type": "text", "text": "eff", "align": "left", "font": "Liberation Sans", "fontWeight": "bold", "fontSize": 10},
   "encoding": {"x": {"datum": 4.201, "type": "quantitative", "scale": {"domain": [4.0, 4.48], "reverse": true, "nice": false, "zero": false}, "axis": null}, "y": {"datum": -0.84, "type": "quantitative", "scale": {"domain": [0, 5.5], "nice": false, "zero": false}, "axis": null}}}
 ]}
]},
{"spacing": 5, "resolve": {"legend": {"fill": "independent"}}, "hconcat": [
 {"width": 159, "height": 288, "resolve": {"axis": {"x": "independent", "y": "independent"}}, "layer": [
  {"data": {"name": "majx"}, "mark": {"type": "rule", "color": "black", "strokeWidth": 1.5}, "encoding": {"x": {"field": "v", "type": "quantitative", "scale": {"domain": [4.0, 4.48], "reverse": true, "nice": false, "zero": false}, "axis": null}, "y": {"datum": 0, "type": "quantitative", "scale": {"domain": [0, 5.5], "nice": false, "zero": false}, "axis": null}, "y2": {"datum": 0.191}}},
  {"data": {"name": "majx"}, "mark": {"type": "rule", "color": "black", "strokeWidth": 1.5}, "encoding": {"x": {"field": "v", "type": "quantitative", "scale": {"domain": [4.0, 4.48], "reverse": true, "nice": false, "zero": false}, "axis": null}, "y": {"datum": 5.5, "type": "quantitative", "scale": {"domain": [0, 5.5], "nice": false, "zero": false}, "axis": null}, "y2": {"datum": 5.309}}},
  {"data": {"name": "minx"}, "mark": {"type": "rule", "color": "black", "strokeWidth": 1.5}, "encoding": {"x": {"field": "v", "type": "quantitative", "scale": {"domain": [4.0, 4.48], "reverse": true, "nice": false, "zero": false}, "axis": null}, "y": {"datum": 0, "type": "quantitative", "scale": {"domain": [0, 5.5], "nice": false, "zero": false}, "axis": null}, "y2": {"datum": 0.095}}},
  {"data": {"name": "minx"}, "mark": {"type": "rule", "color": "black", "strokeWidth": 1.5}, "encoding": {"x": {"field": "v", "type": "quantitative", "scale": {"domain": [4.0, 4.48], "reverse": true, "nice": false, "zero": false}, "axis": null}, "y": {"datum": 5.5, "type": "quantitative", "scale": {"domain": [0, 5.5], "nice": false, "zero": false}, "axis": null}, "y2": {"datum": 5.405}}},
  {"data": {"name": "pts"}, "transform": [{"filter": "datum.p == 3"}],
   "mark": {"type": "circle", "size": 42, "opacity": 1},
   "encoding": {
    "x": {"field": "t", "type": "quantitative", "scale": {"domain": [4.0, 4.48], "reverse": true, "nice": false, "zero": false}, "axis": {"orient": "bottom", "values": [4.4, 4.3, 4.2, 4.1], "ticks": false, "labelPadding": 10, "title": null}},
    "y": {"field": "f", "type": "quantitative", "scale": {"domain": [0, 5.5], "nice": false, "zero": false}, "axis": {"orient": "left", "values": [0, 1, 2, 3, 4, 5], "offset": -10, "tickSize": 10, "labelPadding": 14, "title": "frequecy (c/d)", "titlePadding": 4}},
    "fill": {"field": "l", "type": "nominal", "scale": {"domain": [0, 1, 2, 3, 4], "range": ["white", "black", "black", "black", "black"]}, "legend": {"orient": "none", "legendX": 105, "legendY": 14, "title": null, "labelFont": "DejaVu Serif", "labelFontSize": 15, "labelColor": "black", "symbolType": "circle", "symbolSize": 22, "symbolStrokeWidth": 0, "symbolOpacity": 1, "rowPadding": 1, "padding": 0, "labelOffset": 5, "labelExpr": "'l=' + datum.label"}}
   }},
  {"data": {"values": [{}]}, "mark": {"type": "text", "text": "20  M", "align": "right"},
   "encoding": {
    "x": {"datum": 4.111, "type": "quantitative", "scale": {"domain": [4.0, 4.48], "reverse": true, "nice": false, "zero": false}, "axis": null},
    "y": {"datum": 2.99, "type": "quantitative", "scale": {"domain": [0, 5.5], "nice": false, "zero": false}, "axis": {"orient": "left", "values": [0.2, 0.4, 0.6, 0.8, 1.2, 1.4, 1.6, 1.8, 2.2, 2.4, 2.6, 2.8, 3.2, 3.4, 3.6, 3.8, 4.2, 4.4, 4.6, 4.8, 5.2, 5.4], "offset": -5, "tickSize": 5, "labels": false, "title": null}}
   }},
  {"data": {"values": [{}]}, "mark": {"type": "text", "text": "ov=0.0", "align": "right"},
   "encoding": {
    "x": {"datum": 4.075, "type": "quantitative", "scale": {"domain": [4.0, 4.48], "reverse": true, "nice": false, "zero": false}, "axis": null},
    "y": {"datum": 2.48, "type": "quantitative", "scale": {"domain": [0, 5.5], "nice": false, "zero": false}, "axis": {"orient": "right", "values": [1, 2, 3, 4, 5], "offset": -10, "tickSize": 10, "labels": false, "title": null}}
   }},
  {"data": {"values": [{}]}, "mark": {"type": "text", "text": "⊙", "align": "left", "baseline": "middle", "fontSize": 11},
   "encoding": {
    "x": {"datum": 4.105, "type": "quantitative", "scale": {"domain": [4.0, 4.48], "reverse": true, "nice": false, "zero": false}, "axis": null},
    "y": {"datum": 2.93, "type": "quantitative", "scale": {"domain": [0, 5.5], "nice": false, "zero": false}, "axis": {"orient": "right", "values": [0.2, 0.4, 0.6, 0.8, 1.2, 1.4, 1.6, 1.8, 2.2, 2.4, 2.6, 2.8, 3.2, 3.4, 3.6, 3.8, 4.2, 4.4, 4.6, 4.8, 5.2, 5.4], "offset": -5, "tickSize": 5, "labels": false, "title": null}}
   }},
  {"data": {"values": [{}]}, "mark": {"type": "text", "text": "log T", "align": "right"},
   "encoding": {"x": {"datum": 4.206, "type": "quantitative", "scale": {"domain": [4.0, 4.48], "reverse": true, "nice": false, "zero": false}, "axis": null}, "y": {"datum": -0.76, "type": "quantitative", "scale": {"domain": [0, 5.5], "nice": false, "zero": false}, "axis": null}}},
  {"data": {"values": [{}]}, "mark": {"type": "text", "text": "eff", "align": "left", "font": "Liberation Sans", "fontWeight": "bold", "fontSize": 10},
   "encoding": {"x": {"datum": 4.201, "type": "quantitative", "scale": {"domain": [4.0, 4.48], "reverse": true, "nice": false, "zero": false}, "axis": null}, "y": {"datum": -0.84, "type": "quantitative", "scale": {"domain": [0, 5.5], "nice": false, "zero": false}, "axis": null}}}
 ]},
 {"width": 149, "height": 288, "resolve": {"axis": {"x": "independent", "y": "independent"}}, "layer": [
  {"data": {"name": "majx"}, "mark": {"type": "rule", "color": "black", "strokeWidth": 1.5}, "encoding": {"x": {"field": "v", "type": "quantitative", "scale": {"domain": [4.03, 4.48], "reverse": true, "nice": false, "zero": false}, "axis": null}, "y": {"datum": 0, "type": "quantitative", "scale": {"domain": [0, 5.5], "nice": false, "zero": false}, "axis": null}, "y2": {"datum": 0.191}}},
  {"data": {"name": "majx"}, "mark": {"type": "rule", "color": "black", "strokeWidth": 1.5}, "encoding": {"x": {"field": "v", "type": "quantitative", "scale": {"domain": [4.03, 4.48], "reverse": true, "nice": false, "zero": false}, "axis": null}, "y": {"datum": 5.5, "type": "quantitative", "scale": {"domain": [0, 5.5], "nice": false, "zero": false}, "axis": null}, "y2": {"datum": 5.309}}},
  {"data": {"name": "minx"}, "transform": [{"filter": "datum.v > 4.03"}], "mark": {"type": "rule", "color": "black", "strokeWidth": 1.5}, "encoding": {"x": {"field": "v", "type": "quantitative", "scale": {"domain": [4.03, 4.48], "reverse": true, "nice": false, "zero": false}, "axis": null}, "y": {"datum": 0, "type": "quantitative", "scale": {"domain": [0, 5.5], "nice": false, "zero": false}, "axis": null}, "y2": {"datum": 0.095}}},
  {"data": {"name": "minx"}, "transform": [{"filter": "datum.v > 4.03"}], "mark": {"type": "rule", "color": "black", "strokeWidth": 1.5}, "encoding": {"x": {"field": "v", "type": "quantitative", "scale": {"domain": [4.03, 4.48], "reverse": true, "nice": false, "zero": false}, "axis": null}, "y": {"datum": 5.5, "type": "quantitative", "scale": {"domain": [0, 5.5], "nice": false, "zero": false}, "axis": null}, "y2": {"datum": 5.405}}},
  {"data": {"name": "pts"}, "transform": [{"filter": "datum.p == 4"}],
   "mark": {"type": "circle", "size": 42, "opacity": 1},
   "encoding": {
    "x": {"field": "t", "type": "quantitative", "scale": {"domain": [4.03, 4.48], "reverse": true, "nice": false, "zero": false}, "axis": {"orient": "bottom", "values": [4.4, 4.3, 4.2, 4.1], "ticks": false, "labelPadding": 10, "title": null}},
    "y": {"field": "f", "type": "quantitative", "scale": {"domain": [0, 5.5], "nice": false, "zero": false}, "axis": {"orient": "left", "values": [0, 1, 2, 3, 4, 5], "offset": -10, "tickSize": 10, "labels": false, "title": null}},
    "fill": {"field": "l", "type": "nominal", "scale": {"domain": [0, 1, 2, 3, 4], "range": ["white", "black", "black", "black", "black"]}, "legend": {"orient": "none", "legendX": 105, "legendY": 14, "title": null, "labelFont": "DejaVu Serif", "labelFontSize": 15, "labelColor": "black", "symbolType": "circle", "symbolSize": 22, "symbolStrokeWidth": 0, "symbolOpacity": 1, "rowPadding": 1, "padding": 0, "labelOffset": 5, "labelExpr": "'l=' + datum.label"}}
   }},
  {"data": {"values": [{}]}, "mark": {"type": "text", "text": "20  M", "align": "right"},
   "encoding": {
    "x": {"datum": 4.111, "type": "quantitative", "scale": {"domain": [4.03, 4.48], "reverse": true, "nice": false, "zero": false}, "axis": null},
    "y": {"datum": 2.99, "type": "quantitative", "scale": {"domain": [0, 5.5], "nice": false, "zero": false}, "axis": {"orient": "left", "values": [0.2, 0.4, 0.6, 0.8, 1.2, 1.4, 1.6, 1.8, 2.2, 2.4, 2.6, 2.8, 3.2, 3.4, 3.6, 3.8, 4.2, 4.4, 4.6, 4.8, 5.2, 5.4], "offset": -5, "tickSize": 5, "labels": false, "title": null}}
   }},
  {"data": {"values": [{}]}, "mark": {"type": "text", "text": "ov=0.2", "align": "right"},
   "encoding": {
    "x": {"datum": 4.075, "type": "quantitative", "scale": {"domain": [4.03, 4.48], "reverse": true, "nice": false, "zero": false}, "axis": null},
    "y": {"datum": 2.48, "type": "quantitative", "scale": {"domain": [0, 5.5], "nice": false, "zero": false}, "axis": null}
   }},
  {"data": {"values": [{}]}, "mark": {"type": "text", "text": "⊙", "align": "left", "baseline": "middle", "fontSize": 11},
   "encoding": {
    "x": {"datum": 4.105, "type": "quantitative", "scale": {"domain": [4.03, 4.48], "reverse": true, "nice": false, "zero": false}, "axis": null},
    "y": {"datum": 2.93, "type": "quantitative", "scale": {"domain": [0, 5.5], "nice": false, "zero": false}, "axis": null}
   }},
  {"data": {"values": [{}]}, "mark": {"type": "text", "text": "log T", "align": "right"},
   "encoding": {"x": {"datum": 4.206, "type": "quantitative", "scale": {"domain": [4.03, 4.48], "reverse": true, "nice": false, "zero": false}, "axis": null}, "y": {"datum": -0.76, "type": "quantitative", "scale": {"domain": [0, 5.5], "nice": false, "zero": false}, "axis": null}}},
  {"data": {"values": [{}]}, "mark": {"type": "text", "text": "eff", "align": "left", "font": "Liberation Sans", "fontWeight": "bold", "fontSize": 10},
   "encoding": {"x": {"datum": 4.201, "type": "quantitative", "scale": {"domain": [4.03, 4.48], "reverse": true, "nice": false, "zero": false}, "axis": null}, "y": {"datum": -0.84, "type": "quantitative", "scale": {"domain": [0, 5.5], "nice": false, "zero": false}, "axis": null}}}
 ]}
]}
]
}
